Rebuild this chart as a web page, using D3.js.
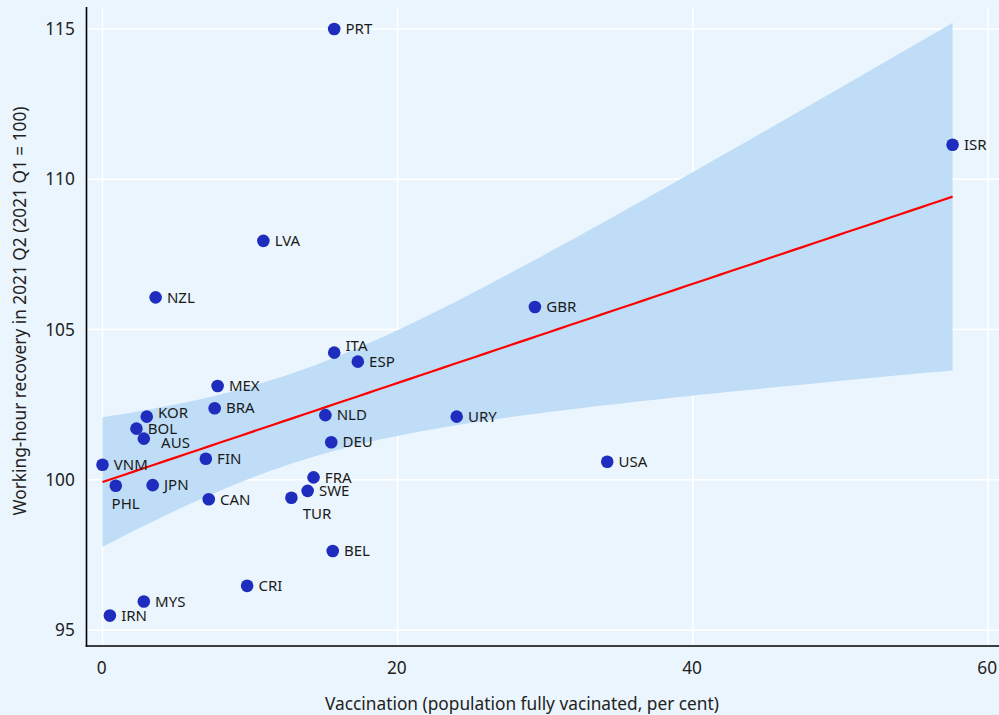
<!DOCTYPE html>
<html><head><meta charset="utf-8">
<script src="https://cdn.jsdelivr.net/npm/d3@7"></script>
<style>
html,body{margin:0;padding:0;background:#ebf5fd;}
svg{display:block;font-family:"Noto Sans",sans-serif;}
</style></head>
<body>
<svg id="chart" width="999" height="715"></svg>
<script>
const countries = ["PRT","ISR","LVA","NZL","GBR","ITA","ESP","MEX","BRA","KOR","NLD","URY","BOL","AUS","DEU","FIN","USA","VNM","FRA","PHL","JPN","SWE","CAN","TUR","BEL","CRI","MYS","IRN"];
const vaccination = [15.7,57.6,10.9,3.6,29.3,15.7,17.3,7.8,7.6,3.0,15.1,24.0,2.3,2.8,15.5,7.0,34.2,0.0,14.3,0.9,3.4,13.9,7.2,12.8,15.6,9.8,2.8,0.5];
const recovery = [115.0,111.15,107.95,106.07,105.75,104.23,103.93,103.12,102.38,102.1,102.15,102.1,101.7,101.37,101.25,100.7,100.6,100.5,100.08,99.8,99.82,99.63,99.35,99.4,97.63,96.47,95.95,95.48];
const xTicks = [0,20,40,60];
const yTicks = [95,100,105,110,115];
const xTitle = "Vaccination (population fully vacinated, per cent)";
const yTitle = "Working-hour recovery in 2021 Q2 (2021 Q1 = 100)";

const svg = d3.select("#chart");
const L = 86.5, R = 999, T = 7, B = 646;
const x = d3.scaleLinear().domain([0,60]).range([102.5,988]);
const y = d3.scaleLinear().domain([95,115]).range([630,29]);

const data = countries.map((c,i)=>({c, x:vaccination[i], y:recovery[i]}));

// label nudges (pixel offsets relative to default placement)
const nudge = {ITA:[0,-7], KOR:[0,-3.5], AUS:[6,4.5], PHL:[-15.5,18], TUR:[0,16]};

svg.append("rect").attr("x",0).attr("y",0).attr("width",999).attr("height",715).attr("fill","#ebf5fd");

// grid
const g = svg.append("g");
g.selectAll(".gx").data(xTicks).join("line")
  .attr("x1",d=>x(d)).attr("x2",d=>x(d)).attr("y1",T).attr("y2",B)
  .attr("stroke","#ffffff").attr("stroke-width",1.6);
g.selectAll(".gy").data(yTicks).join("line")
  .attr("x1",L).attr("x2",R).attr("y1",d=>y(d)).attr("y2",d=>y(d))
  .attr("stroke","#ffffff").attr("stroke-width",1.6);

// OLS fit + 95% confidence band
const n = data.length;
const mx = d3.mean(data,d=>d.x), my = d3.mean(data,d=>d.y);
const sxx = d3.sum(data,d=>(d.x-mx)**2);
const sxy = d3.sum(data,d=>(d.x-mx)*(d.y-my));
const b1 = sxy/sxx, b0 = my - b1*mx;
const sse = d3.sum(data,d=>(d.y-(b0+b1*d.x))**2);
const s = Math.sqrt(sse/(n-2));
const tval = 2.0555;
const [xmin,xmax] = d3.extent(data,d=>d.x);
const grid = d3.range(0,81).map(i=>xmin+(xmax-xmin)*i/80);
const band = grid.map(xv=>{
  const fit = b0+b1*xv;
  const se = s*Math.sqrt(1/n + (xv-mx)**2/sxx);
  return {x:xv, fit, lo:fit-tval*se, hi:fit+tval*se};
});
svg.append("path").datum(band)
  .attr("d",d3.area().x(d=>x(d.x)).y0(d=>y(d.lo)).y1(d=>y(d.hi)))
  .attr("fill","#bfddf7");
svg.append("path").datum(band)
  .attr("d",d3.line().x(d=>x(d.x)).y(d=>y(d.fit)))
  .attr("fill","none").attr("stroke","#ff0000").attr("stroke-width",2.2);

// axes lines
svg.append("line").attr("x1",L).attr("x2",L).attr("y1",T).attr("y2",B+0.8).attr("stroke","#000").attr("stroke-width",1.6);
svg.append("line").attr("x1",L-0.8).attr("x2",R).attr("y1",B).attr("y2",B).attr("stroke","#000").attr("stroke-width",1.6);

// tick labels
svg.selectAll(".xt").data(xTicks).join("text")
  .attr("x",d=>x(d)-0.8).attr("y",668).attr("dy","0.35em").attr("text-anchor","middle")
  .attr("font-size",17.3).attr("fill","#222").text(d=>d);
svg.selectAll(".yt").data(yTicks).join("text")
  .attr("x",74.8).attr("y",d=>y(d)).attr("dy","0.35em").attr("text-anchor","end")
  .attr("font-size",17.3).attr("fill","#222").text(d=>d);

// titles
svg.append("text").attr("x",522).attr("y",704).attr("dy","0.35em").attr("text-anchor","middle")
  .attr("font-size",17.3).attr("fill","#222").text(xTitle);
svg.append("text").attr("transform","translate(20,311) rotate(-90)").attr("dy","0.35em").attr("text-anchor","middle")
  .attr("font-size",17.3).attr("fill","#222").text(yTitle);

// points
svg.selectAll(".pt").data(data).join("circle")
  .attr("cx",d=>x(d.x)).attr("cy",d=>y(d.y)).attr("r",6.3).attr("fill","#1f2dbf");

// labels
svg.selectAll(".lb").data(data).join("text")
  .attr("x",d=>x(d.x)+11.3+(nudge[d.c]?nudge[d.c][0]:0))
  .attr("y",d=>y(d.y)+(nudge[d.c]?nudge[d.c][1]:0))
  .attr("dy","0.35em").attr("font-size",15).attr("fill","#1a1a1a").text(d=>d.c);
</script>
</body></html>
